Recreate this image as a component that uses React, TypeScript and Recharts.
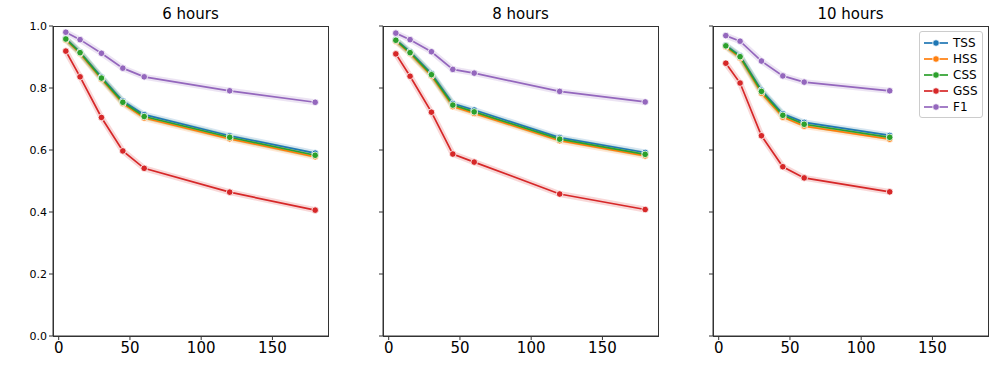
import { LineChart, Line, XAxis, YAxis } from 'recharts';

// minutes ahead
const minutesLong = [5, 15, 30, 45, 60, 120, 180];
const minutesShort = [5, 15, 30, 45, 60, 120];

// 6 hours
const tss6 = [0.96, 0.916, 0.835, 0.758, 0.714, 0.646, 0.590];
const hss6 = [0.955, 0.911, 0.828, 0.750, 0.703, 0.636, 0.578];
const css6 = [0.958, 0.914, 0.832, 0.754, 0.708, 0.641, 0.583];
const gss6 = [0.919, 0.836, 0.705, 0.597, 0.541, 0.464, 0.406];
const f16 = [0.980, 0.956, 0.912, 0.864, 0.836, 0.791, 0.754];

// 8 hours
const tss8 = [0.956, 0.917, 0.847, 0.750, 0.729, 0.640, 0.592];
const hss8 = [0.951, 0.911, 0.839, 0.740, 0.718, 0.630, 0.581];
const css8 = [0.954, 0.914, 0.843, 0.745, 0.723, 0.635, 0.586];
const gss8 = [0.910, 0.838, 0.722, 0.587, 0.561, 0.458, 0.408];
const f18 = [0.977, 0.956, 0.917, 0.860, 0.848, 0.789, 0.755];

// 10 hours
const tss10 = [0.938, 0.904, 0.793, 0.717, 0.689, 0.647];
const hss10 = [0.933, 0.897, 0.783, 0.706, 0.677, 0.635];
const css10 = [0.936, 0.901, 0.789, 0.712, 0.683, 0.641];
const gss10 = [0.880, 0.816, 0.646, 0.546, 0.510, 0.465];
const f110 = [0.969, 0.951, 0.887, 0.839, 0.819, 0.791];

const yTicks = [0, 0.2, 0.4, 0.6, 0.8, 1.0];
const xTicks = [0, 50, 100, 150];

const metrics = ['TSS', 'HSS', 'CSS', 'GSS', 'F1'];
const colors = ['#1f77b4', '#ff7f0e', '#2ca02c', '#d62728', '#9467bd'];

function rows(x: number[], cols: number[][]) {
  return x.map((m, i) => {
    const r: Record<string, number> = { m };
    metrics.forEach((k, j) => (r[k] = cols[j][i]));
    return r;
  });
}

const panels = [
  { title: '6 hours', left: 53, data: rows(minutesLong, [tss6, hss6, css6, gss6, f16]) },
  { title: '8 hours', left: 383, data: rows(minutesLong, [tss8, hss8, css8, gss8, f18]) },
  { title: '10 hours', left: 713, data: rows(minutesShort, [tss10, hss10, css10, gss10, f110]) },
];

const PLOT_W = 275;
const TOP = 26;
const BOTTOM = 336;
const font = '"DejaVu Sans", sans-serif';
const axisColor = '#333';

function Dot(props: any) {
  const { cx, cy, fill } = props;
  if (cx == null || cy == null) return null;
  return <circle cx={cx} cy={cy} r={3.3} fill={fill} stroke="#fff" strokeWidth={0.8} />;
}

function Panel({ title, left, data, showY }: { title: string; left: number; data: any[]; showY: boolean }) {
  return (
    <>
      <div
        style={{
          position: 'absolute', left, top: 5, width: PLOT_W, textAlign: 'center',
          fontFamily: font, fontSize: 15, color: '#000',
        }}
      >
        {title}
      </div>
      <div style={{ position: 'absolute', left: left - 53, top: 0 }}>
        <LineChart width={53 + PLOT_W + 6} height={367} data={data} margin={{ top: TOP, right: 6, bottom: 0, left: 0 }}>
          <XAxis
            dataKey="m" type="number" domain={[-4, 189]} ticks={xTicks} height={367 - BOTTOM}
            tick={{ fontSize: 15, fill: '#000', fontFamily: font }} tickSize={4}
            stroke={axisColor} allowDataOverflow
          />
          <YAxis
            type="number" domain={[0, 1]} ticks={yTicks} width={53}
            tick={{ fontSize: 11, fill: '#000', fontFamily: font }} tickSize={4}
            tickFormatter={(v: number) => (showY ? v.toFixed(1) : '')}
            stroke={axisColor}
          />
          {metrics.map((k, i) => (
            <Line
              key={'band' + k} dataKey={k} stroke={colors[i]} strokeOpacity={0.18} strokeWidth={6}
              dot={false} activeDot={false} legendType="none" isAnimationActive={false} strokeLinejoin="round"
            />
          ))}
          {metrics.map((k, i) => (
            <Line
              key={k} dataKey={k} stroke={colors[i]} strokeWidth={1.7} fill={colors[i]}
              dot={<Dot />} activeDot={false} isAnimationActive={false}
            />
          ))}
        </LineChart>
      </div>
      <div
        style={{
          position: 'absolute', left, top: TOP, width: PLOT_W - 1, height: BOTTOM - TOP - 1,
          border: `1px solid ${axisColor}`, pointerEvents: 'none',
        }}
      />
    </>
  );
}

function Legend() {
  return (
    <div
      style={{
        position: 'absolute', left: 919, top: 31, width: 62, height: 85,
        border: '1px solid #ccc', borderRadius: 3, background: 'rgba(255,255,255,0.8)',
        fontFamily: font, fontSize: 12, color: '#000',
      }}
    >
      {metrics.map((k, i) => (
        <div key={k} style={{ position: 'absolute', left: 3, top: 3 + i * 16, height: 16, display: 'flex', alignItems: 'center' }}>
          <svg width={26} height={16}>
            <line x1={1} y1={8} x2={25} y2={8} stroke={colors[i]} strokeWidth={1.7} />
            <circle cx={13} cy={8} r={3.3} fill={colors[i]} stroke="#fff" strokeWidth={0.8} />
          </svg>
          <span style={{ marginLeft: 4 }}>{k}</span>
        </div>
      ))}
    </div>
  );
}

export default function App() {
  return (
    <div style={{ position: 'absolute', left: 0, top: 0, width: 996, height: 367, background: '#fff', overflow: 'hidden' }}>
      {panels.map((p, i) => (
        <Panel key={p.title} title={p.title} left={p.left} data={p.data} showY={i === 0} />
      ))}
      <Legend />
    </div>
  );
}
